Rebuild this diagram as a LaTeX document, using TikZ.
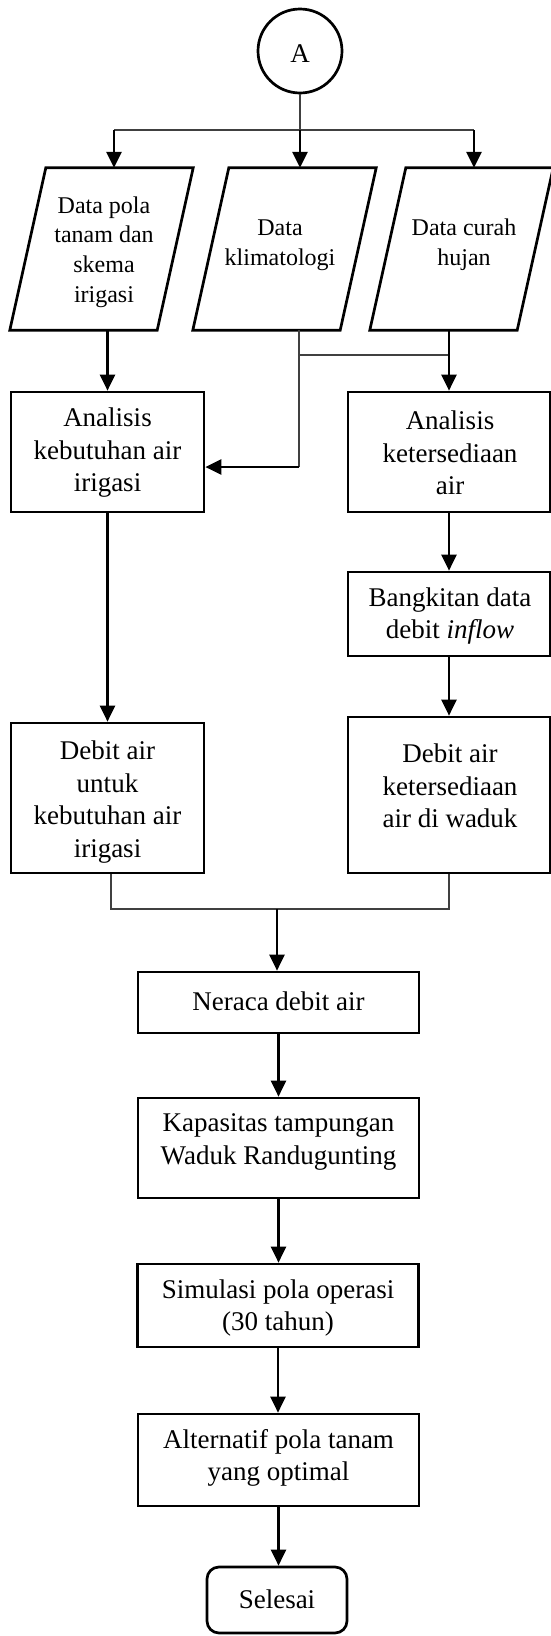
\documentclass[tikz,border=0pt]{standalone}
\usepackage{fontspec}
\setmainfont{Liberation Serif}
\usetikzlibrary{arrows.meta,calc}
\newcommand\bfnt{\fontsize{27pt}{32.5pt}\selectfont}
\newcommand\pfnt{\fontsize{24pt}{29.7pt}\selectfont}
\begin{document}
\begin{tikzpicture}[x=1pt,y=-1pt,
  shapebox/.style={draw=black, line width=2.7pt, inner sep=0pt},
  txt/.style={align=center, inner sep=0pt, font=\bfnt},
  ptxt/.style={align=center, inner sep=0pt, font=\pfnt},
  para/.style={inner sep=0pt, minimum width=147pt, minimum height=162pt},
  paraline/.style={line width=2.7pt, line join=miter},
  arr/.style={line width=2.6pt, -{Triangle[length=16pt,width=15pt]}},
  conn/.style={line width=1.4pt, draw=black!75}]
\useasboundingbox (0,0) rectangle (551,1636);

% connector A
\node[circle, draw, line width=2.7pt, minimum size=84pt, inner sep=0pt] (A) at (300,51) {};
\node[txt] (At) at (300,54) {A};

% data parallelograms
\node[para] (p1) at (101.5,249) {};
\node[para] (p2) at (284.5,249) {};
\node[para] (p3) at (461.5,249) {};
\foreach \n in {p1,p2,p3}
  \draw[paraline] ([xshift=18pt]\n.north west) -- ([xshift=18pt]\n.north east)
     -- ([xshift=-18pt]\n.south east) -- ([xshift=-18pt]\n.south west) -- cycle;
\node[ptxt] (p1t) at (104,252) {Data pola\\tanam dan\\skema\\irigasi};
\node[ptxt] (p2t) at (280,245) {Data\\klimatologi};
\node[ptxt] (p3t) at (464,245) {Data curah\\hujan};

% process boxes
\node[shapebox, minimum width=193pt, minimum height=120pt] (k1) at (107.5,452) {};
\node[txt] (k1t) at (107.5,453) {Analisis\\kebutuhan air\\irigasi};
\node[shapebox, minimum width=202pt, minimum height=120pt] (s1) at (449,452) {};
\node[txt] (s1t) at (450,453) {Analisis\\ketersediaan\\air};
\node[shapebox, minimum width=202pt, minimum height=84pt] (b1) at (449,614) {};
\node[txt] (b1t) at (450,616) {Bangkitan data\\debit \textit{inflow}};
\node[shapebox, minimum width=193pt, minimum height=150pt] (d1) at (107.5,798) {};
\node[txt] (d1t) at (107.5,802) {Debit air\\untuk\\kebutuhan air\\irigasi};
\node[shapebox, minimum width=202pt, minimum height=156pt] (d2) at (449,795) {};
\node[txt] (d2t) at (450,786) {Debit air\\ketersediaan\\air di waduk};
\node[shapebox, minimum width=281pt, minimum height=61pt] (n1) at (278.5,1002.5) {};
\node[txt] (n1t) at (278.5,1001) {Neraca debit air};
\node[shapebox, minimum width=281pt, minimum height=100pt] (n2) at (278.5,1148) {};
\node[txt] (n2t) at (278.5,1142) {Kapasitas tampungan\\Waduk Randugunting};
\node[shapebox, minimum width=281pt, minimum height=83pt] (n3) at (278,1305.5) {};
\node[txt] (n3t) at (278,1308) {Simulasi pola operasi\\(30 tahun)};
\node[shapebox, minimum width=281pt, minimum height=92pt] (n4) at (278.5,1460) {};
\node[txt] (n4t) at (278.5,1458) {Alternatif pola tanam\\yang optimal};
\node[shapebox, rounded corners=12pt, minimum width=140pt, minimum height=66pt] (n5) at (277,1600) {};
\node[txt] (n5t) at (277,1599) {Selesai};

% branch from A
\coordinate (br) at (300,130);
\coordinate (brL) at (114,130);
\coordinate (brR) at (474,130);
\draw[conn] (A.south) -- (br);
\draw[conn] (brL) -- (brR);
\draw[arr] (brL) -- (brL |- p1.north);
\draw[arr] (br) -- (br |- p2.north);
\draw[arr] (brR) -- (brR |- p3.north);

% data to analyses
\draw[arr] (p1.south -| k1.north) -- (k1.north);
\coordinate (c2) at ([xshift=14.5pt]p2.south);
\coordinate (c2b) at (299,467);
\coordinate (h1) at (299,355);
\draw[conn] (c2) -- (c2b);
\draw[conn] (h1) -- (h1 -| s1.north);
\draw[arr] (c2b) -- (c2b -| k1.east);
\draw[arr] (p3.south -| s1.north) -- (s1.north);

% right column
\draw[arr] (s1.south) -- (b1.north);
\draw[arr] (b1.south) -- (d2.north);
% left column
\draw[arr] (k1.south) -- (d1.north);

% merge
\coordinate (m) at (277,909);
\draw[conn] ([xshift=3.5pt]d1.south) -- ([xshift=3.5pt]d1.south |- m) -- (d2.south |- m) -- (d2.south);
\draw[arr] (m) -- (m |- n1.north);

% lower chain
\draw[arr] (n1.south) -- (n2.north);
\draw[arr] (n2.south) -- (n2.south |- n3.north);
\draw[arr] (n3.south) -- (n3.south |- n4.north);
\draw[arr] (n4.south) -- (n4.south |- n5.north);
\end{tikzpicture}
\end{document}
